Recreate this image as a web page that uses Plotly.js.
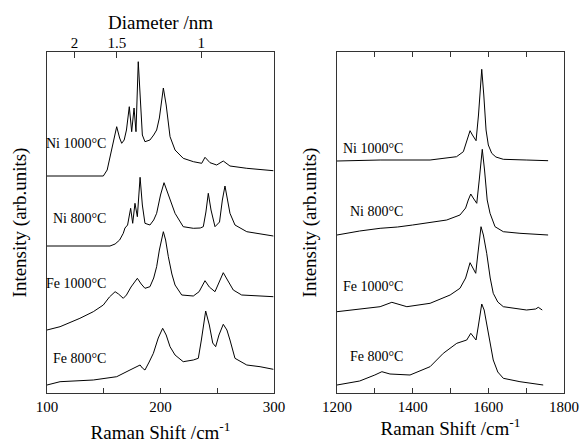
<!DOCTYPE html>
<html>
<head>
<meta charset="utf-8">
<script src="https://cdn.plot.ly/plotly-3.0.1.min.js"></script>
<style>html,body{margin:0;padding:0;background:#fff;}#chart{width:581px;height:443px;}</style>
</head>
<body>
<div id="chart"></div>
<script>
// ---- Left panel: RBM region (Raman shift /cm-1, intensity arb. units incl. stacking) ----
const ni1000_rbm_x = [100,120,140,149.6,153,157,161.4,164,165.8,168,170,172.5,174.6,176.7,178.4,180.4,182.5,184,186.3,190.7,194,196.6,199,202.5,205,208.4,212.8,220,229,236.3,239.2,243.6,249.5,255.3,261.2,276,299.4];
const ni1000_rbm_y = [217,217,216.5,217,223,243,266.3,255,249.7,253,263,286.3,261.3,285,261.3,331.3,283,258,251.3,253,258,263,275,305,288,256.3,243,234.7,231.3,229.7,235.7,230.3,228,232,227,224.7,222.3];

const ni800_rbm_x = [100,130,155.5,160,164,167.2,168.7,171,173.7,175.5,177.5,179.6,182,184,186.3,190.7,194,196.6,200,203.1,206,208.4,212.8,220,228.9,235,237.7,240,242.1,244.5,248,252,254.5,256.8,259,261.2,265.6,276,299.4];
const ni800_rbm_y = [147,147,147,149,153,159.7,165,168,184.7,169.7,189.7,176.3,215.7,188,169.7,168,173,179.7,198,210.3,201,193,179.7,166.3,164.7,165,166.3,181,199.7,183,166.3,171,193,207,195,179.7,168,161.3,157];

const fe1000_rbm_x = [100,111.5,129,140.8,149.6,155,160,163,167.2,170,174,179.6,183,186.3,190.7,194,196.6,199,202.5,204.5,206.9,210,212.8,218.7,228.9,234,239.2,243,248,252,255.3,259,264.1,271.5,285,299.4];
const fe1000_rbm_y = [63,66.3,74.7,81.3,88,96,101.3,99,94.7,98,106,114.7,109,104.7,106.3,115,126.3,143,161.3,153,136.3,119,108,98,97,101.3,112.3,106,101.3,111,120.3,113,103,98,97,96.3];

const fe800_rbm_x = [100,111.5,140.8,161.4,173.1,178,182,184,186.3,190,193.7,198,201.9,205,208.4,212.8,220,228.9,233.3,236,239.8,243,246,248.6,251.5,255.3,258.5,261.2,265.6,276,287.7,299.4];
const fe800_rbm_y = [8,11.3,13,16.3,23,26,28,25,23,31,39.7,55,64.7,58,46.3,38,31.3,33,34.7,53,82,68,50,46.3,58,68.7,63,53,34.7,28,26.3,23.7];

// ---- Right panel: D / G band region ----
const ni1000_g_x = [1200,1314,1446,1516,1534,1545,1551.7,1558,1567.6,1574,1582.6,1588,1594,1600,1609,1620,1639.6,1700,1723,1758];
const ni1000_g_y = [232,233,233,236.3,241.3,253,262.3,258,252.3,278,323.7,298,263,248,239.7,236,233.7,233,233,232.3];

const ni800_g_x = [1200,1260,1314,1360,1400,1428.5,1490,1525,1540,1547,1553.6,1560,1569.4,1576,1584,1590,1597,1604.5,1617.7,1639.6,1683.6,1758];
const ni800_g_y = [158,162,164.7,166,168,169.7,173,178,185,193,199,195,189.7,213,243.7,223,193,179.7,166.3,161.3,159.7,158];

const fe1000_g_x = [1200,1260,1314,1345,1384.7,1446,1499,1525,1540,1551.7,1558,1566.7,1572,1580.7,1587,1595.7,1605,1613,1625,1639.6,1701,1725,1732,1742.5];
const fe1000_g_y = [81.3,84,86.3,90.7,86.3,89.7,98,104.7,115,130.3,126,119.7,138,166.3,158,139.7,115,99.7,91,86.3,83,84,85.7,83];

const fe800_g_x = [1200,1260,1300,1318.7,1340,1393,1446,1481,1516.6,1543,1553.6,1560,1567.5,1574,1582.6,1589,1595.8,1605,1613,1625,1639.6,1683.6,1745];
const fe800_g_y = [8,12,18,21.3,19,18,26.3,39.7,49.7,53,59.7,57,53,68,89,83,69.7,48,33,21,14.7,11.3,8];

// ---- Labels ----
const sampleLabels = ["Ni 1000°C","Ni 800°C","Fe 1000°C","Fe 800°C"];
const labelY_left = [250, 175, 110, 35];
const labelY_right = [245, 182, 107, 37];

// ---- Tick labels ----
const diameters = [2, 1.5, 1];          // nm
const diameterText = ["2","1.5","1"];
// RBM relation: omega = 223.5/d + 12.5
const diamTickPos = diameters.map(d => 223.5/d + 12.5);

const FONT = "Liberation Serif, Times New Roman, serif";
const lineStyle = {color:"#000", width:1};

const leftSeries = [[ni1000_rbm_x,ni1000_rbm_y],[ni800_rbm_x,ni800_rbm_y],[fe1000_rbm_x,fe1000_rbm_y],[fe800_rbm_x,fe800_rbm_y]];
const rightSeries = [[ni1000_g_x,ni1000_g_y],[ni800_g_x,ni800_g_y],[fe1000_g_x,fe1000_g_y],[fe800_g_x,fe800_g_y]];

const traces = [];
leftSeries.forEach((s,i)=>traces.push({x:s[0],y:s[1],type:"scatter",mode:"lines",line:lineStyle,xaxis:"x",yaxis:"y",name:sampleLabels[i],showlegend:false,hoverinfo:"skip"}));
rightSeries.forEach((s,i)=>traces.push({x:s[0],y:s[1],type:"scatter",mode:"lines",line:lineStyle,xaxis:"x2",yaxis:"y2",name:sampleLabels[i],showlegend:false,hoverinfo:"skip"}));
// invisible trace to activate top diameter axis
traces.push({x:[diamTickPos[0]],y:[0],type:"scatter",mode:"markers",marker:{opacity:0},xaxis:"x3",yaxis:"y",showlegend:false,hoverinfo:"skip"});

const annotations = [];
sampleLabels.forEach((t,i)=>{
  annotations.push({text:t,x:154,y:labelY_left[i],xref:"x",yref:"y",xanchor:"right",yanchor:"middle",showarrow:false,font:{family:FONT,size:14,color:"#000"}});
  annotations.push({text:t,x:1380,y:labelY_right[i],xref:"x2",yref:"y2",xanchor:"right",yanchor:"middle",showarrow:false,font:{family:FONT,size:14,color:"#000"}});
});

const axisCommon = {showgrid:false,zeroline:false,showline:true,linecolor:"#333",linewidth:1,ticks:"inside",ticklen:5,tickcolor:"#333",tickfont:{family:FONT,size:15,color:"#000"}};
const yCommon = {showgrid:false,zeroline:false,showline:true,linecolor:"#333",linewidth:1,mirror:true,ticks:"",showticklabels:false,range:[0,341],domain:[0,1]};

const layout = {
  width:581,height:443,
  margin:{l:47,r:17,t:52,b:50,pad:0},
  paper_bgcolor:"#fff",plot_bgcolor:"#fff",
  font:{family:FONT,color:"#000"},
  showlegend:false,
  xaxis:Object.assign({},axisCommon,{domain:[0,0.4391],range:[100,300],anchor:"y",mirror:true,tickmode:"linear",tick0:100,dtick:100,
    minor:{tick0:100,dtick:50,ticks:"inside",ticklen:5,tickcolor:"#333",showgrid:false},
    title:{text:"Raman Shift /cm<sup>-1</sup>",font:{family:FONT,size:19,color:"#000"},standoff:16}}),
  xaxis3:{overlaying:"x",anchor:"y",side:"top",range:[100,300],showgrid:false,zeroline:false,showline:false,ticks:"inside",ticklen:6,tickcolor:"#333",tickmode:"array",tickvals:diamTickPos,ticktext:diameterText,tickfont:{family:FONT,size:15,color:"#000"},
    title:{text:"Diameter /nm",font:{family:FONT,size:19,color:"#000"},standoff:0}},
  yaxis:Object.assign({},yCommon,{anchor:"x",title:{text:"Intensity (arb.units)",font:{family:FONT,size:19,color:"#000"},standoff:14}}),
  xaxis2:Object.assign({},axisCommon,{domain:[0.5609,1],range:[1200,1800],anchor:"y2",mirror:"ticks",tickmode:"linear",tick0:1200,dtick:200,
    minor:{tick0:1200,dtick:100,ticks:"inside",ticklen:5,tickcolor:"#333",showgrid:false},
    title:{text:"Raman Shift /cm<sup>-1</sup>",font:{family:FONT,size:19,color:"#000"},standoff:7}}),
  yaxis2:Object.assign({},yCommon,{anchor:"x2",title:{text:"Intensity (arb.units)",font:{family:FONT,size:19,color:"#000"},standoff:14}}),
  annotations:annotations
};

Plotly.newPlot("chart",traces,layout,{staticPlot:true,displayModeBar:false});
</script>
</body>
</html>
